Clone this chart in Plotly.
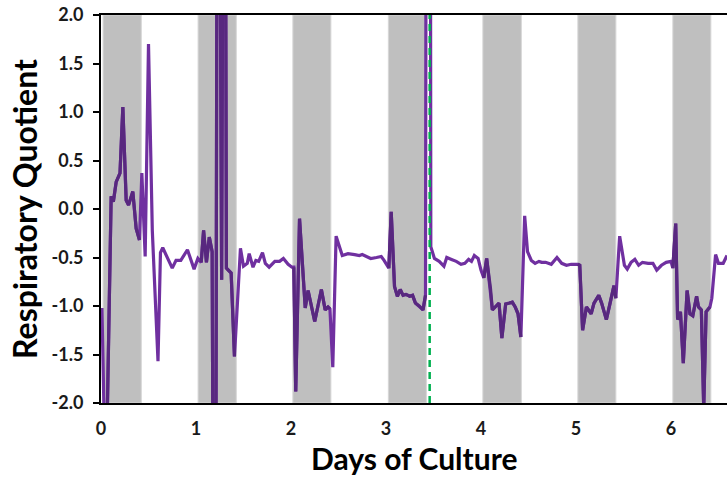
import plotly.graph_objects as go

# Respiratory quotient time course (days of culture vs RQ)
days = [
    0.01, 0.05, 0.107, 0.13, 0.16, 0.20, 0.23, 0.265, 0.29, 0.335, 0.37, 0.405,
    0.43, 0.465, 0.50, 0.54, 0.60, 0.626, 0.65, 0.70, 0.75, 0.79, 0.84, 0.91,
    0.95, 0.98, 1.02, 1.055, 1.08, 1.11, 1.14, 1.17, 1.20, 1.23, 1.27, 1.30,
    1.32, 1.37, 1.405, 1.468, 1.50, 1.54, 1.56, 1.60, 1.63, 1.66, 1.70, 1.73,
    1.77, 1.83, 1.88, 1.92, 1.97, 2.01, 2.03, 2.05, 2.09, 2.13, 2.15, 2.18,
    2.25, 2.32, 2.36, 2.39, 2.41, 2.44, 2.475, 2.54, 2.60, 2.67, 2.72, 2.75,
    2.81, 2.84, 2.90, 2.95, 2.98, 3.03, 3.055, 3.09, 3.12, 3.15, 3.18, 3.21,
    3.25, 3.28, 3.31, 3.35, 3.39, 3.416, 3.435, 3.46, 3.472, 3.51, 3.56, 3.61,
    3.64, 3.69, 3.74, 3.79, 3.83, 3.87, 3.90, 3.93, 3.97, 4.00, 4.03, 4.06,
    4.10, 4.12, 4.16, 4.19, 4.22, 4.26, 4.30, 4.33, 4.36, 4.39, 4.42, 4.46,
    4.49, 4.53, 4.57, 4.61, 4.64, 4.68, 4.74, 4.80, 4.85, 4.90, 4.95, 5.02,
    5.04, 5.07, 5.11, 5.16, 5.19, 5.24, 5.27, 5.32, 5.36, 5.40, 5.42, 5.46,
    5.51, 5.54, 5.58, 5.62, 5.66, 5.70, 5.76, 5.81, 5.85, 5.90, 5.95, 6.00,
    6.02, 6.05, 6.07, 6.10, 6.13, 6.17, 6.20, 6.23, 6.27, 6.29, 6.32, 6.345,
    6.37, 6.41, 6.43, 6.47, 6.50, 6.55, 6.59,
]
rq = [
    -1.02, -3.0, 0.13, 0.075, 0.28, 0.37, 1.05, 0.09, 0.04, 0.18, -0.20, -0.32,
    0.37, -0.49, 1.70, -0.22, -1.57, -0.45, -0.40, -0.51, -0.61, -0.53, -0.53, -0.42,
    -0.53, -0.62, -0.51, -0.55, -0.22, -0.55, -0.29, -0.44, -8.0, 8.0, -0.73, 8.0,
    -0.61, -0.66, -1.52, -0.405, -0.59, -0.56, -0.46, -0.60, -0.53, -0.54, -0.45, -0.56,
    -0.60, -0.54, -0.54, -0.51, -0.57, -0.60, -0.60, -1.88, -0.10, -0.73, -1.02, -0.84,
    -1.16, -0.83, -1.04, -1.01, -1.03, -1.63, -0.28, -0.48, -0.46, -0.47, -0.48, -0.47,
    -0.50, -0.51, -0.50, -0.49, -0.53, -0.61, -0.03, -0.80, -0.90, -0.83, -0.89, -0.88,
    -0.90, -0.89, -0.97, -1.00, -1.04, -0.89, 12.0, 12.0, -0.39, -0.51, -0.54, -0.59,
    -0.50, -0.52, -0.54, -0.57, -0.56, -0.52, -0.54, -0.48, -0.51, -0.63, -0.71, -0.51,
    -0.82, -1.04, -1.00, -0.97, -1.33, -0.98, -0.97, -0.96, -1.01, -1.08, -1.32, -0.07,
    -0.44, -0.53, -0.56, -0.54, -0.55, -0.55, -0.57, -0.50, -0.56, -0.58, -0.57, -0.57,
    -0.58, -1.25, -1.01, -1.08, -0.97, -0.89, -0.97, -1.14, -0.97, -0.79, -0.92, -0.28,
    -0.58, -0.62, -0.55, -0.52, -0.58, -0.55, -0.56, -0.56, -0.63, -0.58, -0.55, -0.54,
    -0.61, -0.15, -1.14, -1.06, -1.59, -0.84, -1.08, -1.10, -0.90, -1.01, -1.04, -2.05,
    -1.06, -1.01, -0.92, -0.47, -0.56, -0.56, -0.48,
]

# Dark periods (lights off), in days
dark_on = [0.022, 1.022, 2.02, 3.025, 4.02, 5.02, 6.02]
dark_off = [0.424, 1.424, 2.42, 3.425, 4.425, 5.42, 6.42]

# Culture transfer event
transfer_day = 3.46

x_ticks = [0, 1, 2, 3, 4, 5, 6]
y_ticks = [-2.0, -1.5, -1.0, -0.5, 0.0, 0.5, 1.0, 1.5, 2.0]

LIGHT_PURPLE = "#7030A0"
DARK_PURPLE = "#58287F"


def in_dark(t):
    return any(a <= t <= b for a, b in zip(dark_on, dark_off))


# Segments recorded during dark periods are drawn in the darker shade
dark_x, dark_y = [], []
for i in range(len(days) - 1):
    if in_dark(days[i]) and in_dark(days[i + 1]):
        if dark_x and dark_x[-1] is not None and dark_x[-1] != days[i]:
            dark_x.append(None)
            dark_y.append(None)
        if not dark_x or dark_x[-1] != days[i]:
            dark_x.append(days[i])
            dark_y.append(rq[i])
        dark_x.append(days[i + 1])
        dark_y.append(rq[i + 1])

fig = go.Figure()

fig.add_trace(go.Scatter(
    x=days, y=rq, mode="lines",
    line=dict(color=LIGHT_PURPLE, width=3.2),
    showlegend=False, hoverinfo="skip",
))
fig.add_trace(go.Scatter(
    x=dark_x, y=dark_y, mode="lines",
    line=dict(color=DARK_PURPLE, width=3.2),
    connectgaps=False, showlegend=False, hoverinfo="skip",
))

shapes = []
for a, b in zip(dark_on, dark_off):
    shapes.append(dict(
        type="rect", xref="x", yref="paper", x0=a, x1=b, y0=0, y1=1,
        fillcolor="#BFBFBF", line=dict(color="#D6D6D6", width=1), layer="below",
    ))
shapes.append(dict(
    type="line", xref="x", yref="paper", x0=transfer_day, x1=transfer_day,
    y0=0, y1=1, line=dict(color="#00B050", width=2.5, dash="7px,5px"),
    layer="above",
))

tick_font = dict(family="Lato", size=18, color="#1a1a1a", weight="bold")
title_font = dict(family="Lato", size=32, color="#000000", weight="bold")
xtitle_font = dict(family="Lato", size=30, color="#000000", weight="bold")

fig.update_layout(
    width=727, height=477,
    margin=dict(l=101, r=0, t=15, b=74),
    paper_bgcolor="white", plot_bgcolor="white",
    shapes=shapes,
    xaxis=dict(
        range=[0, 6.59], tickvals=x_ticks, ticktext=[str(v) for v in x_ticks],
        showline=True, linecolor="#000000", linewidth=2, mirror=True,
        ticks="", showgrid=False, zeroline=False,
        tickfont=tick_font, ticklabelstandoff=8,
    ),
    yaxis=dict(
        range=[-2, 2], tickvals=y_ticks, ticktext=[f"{v:.1f}" for v in y_ticks],
        showline=True, linecolor="#000000", linewidth=2,
        ticks="outside", ticklen=6, tickwidth=1.5, tickcolor="#000000",
        showgrid=False, zeroline=False,
        tickfont=tick_font, ticklabelstandoff=6,
        title=dict(text="Respiratory Quotient", font=title_font, standoff=4),
    ),
    annotations=[dict(
        text="Days of Culture", xref="paper", yref="paper",
        x=0.5, y=0, yshift=-74, xanchor="center", yanchor="bottom",
        showarrow=False, font=xtitle_font, borderpad=0,
    )],
)

fig.write_html("out.html")
